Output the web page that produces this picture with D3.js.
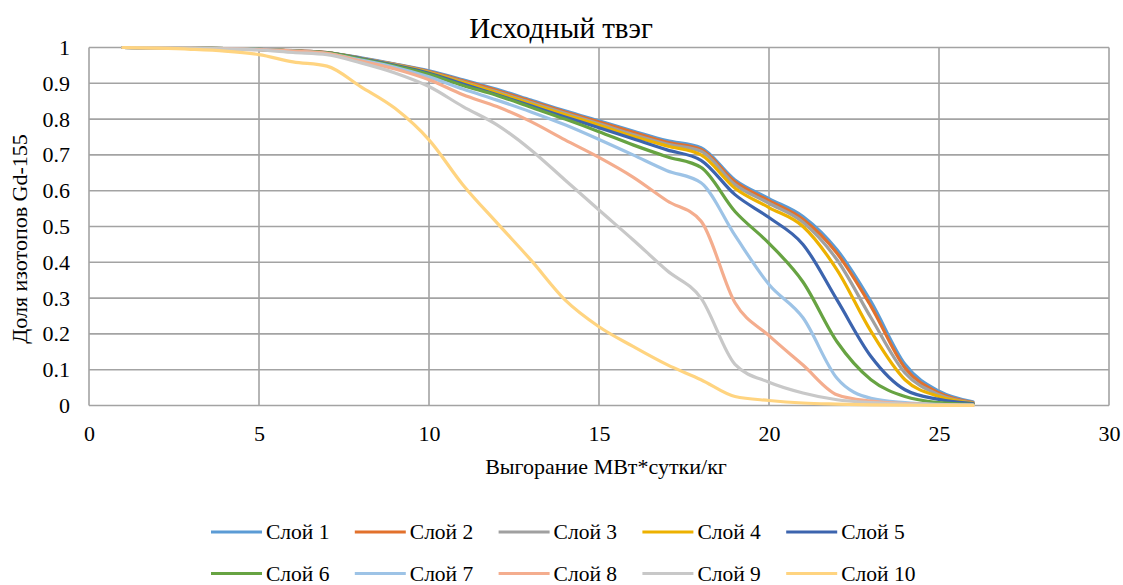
<!DOCTYPE html>
<html><head><meta charset="utf-8">
<script src="https://cdn.jsdelivr.net/npm/d3@7"></script>
<style>body{margin:0;background:#fff}svg{display:block}</style>
</head><body>
<svg id="c" width="1123" height="585"></svg>
<script>
const burnup = [1,2,3,4,5,6,7,8,9,10,11,12,13,14,15,16,17,18,19,20,21,22,23,24,25,26];
const seriesNames = ["Слой 1","Слой 2","Слой 3","Слой 4","Слой 5","Слой 6","Слой 7","Слой 8","Слой 9","Слой 10"];
const colors = ["#5B9BD5","#E2712C","#A0A0A0","#EDB100","#3C64AE","#67A342","#9DC3E6","#F4AD8E","#C8C8C8","#FFD480"];
const layer1 = [1,0.999,0.998,0.997,0.995,0.991,0.986,0.971,0.954,0.935,0.910,0.883,0.853,0.823,0.795,0.767,0.740,0.720,0.630,0.578,0.528,0.435,0.290,0.115,0.040,0.010];
const layer2 = [1,0.999,0.998,0.997,0.995,0.991,0.986,0.970,0.953,0.933,0.907,0.880,0.850,0.820,0.792,0.763,0.735,0.715,0.625,0.572,0.520,0.425,0.277,0.105,0.035,0.008];
const layer3 = [1,0.999,0.998,0.997,0.995,0.990,0.985,0.970,0.952,0.931,0.904,0.876,0.846,0.816,0.787,0.757,0.730,0.710,0.617,0.565,0.512,0.407,0.245,0.091,0.030,0.007];
const layer4 = [1,0.999,0.998,0.997,0.995,0.990,0.985,0.969,0.951,0.930,0.902,0.873,0.842,0.812,0.783,0.752,0.725,0.700,0.607,0.553,0.500,0.379,0.207,0.072,0.025,0.006];
const layer5 = [1,0.999,0.998,0.997,0.995,0.990,0.985,0.969,0.950,0.928,0.898,0.868,0.837,0.806,0.776,0.745,0.714,0.685,0.589,0.525,0.450,0.295,0.137,0.044,0.017,0.005];
const layer6 = [1,0.999,0.998,0.997,0.995,0.990,0.985,0.968,0.948,0.925,0.894,0.866,0.833,0.800,0.765,0.728,0.695,0.665,0.542,0.453,0.345,0.178,0.072,0.025,0.008,0.003];
const layer7 = [1,0.999,0.998,0.997,0.995,0.990,0.983,0.965,0.945,0.918,0.884,0.853,0.820,0.784,0.743,0.700,0.656,0.622,0.475,0.338,0.245,0.076,0.020,0.008,0.003,0.001];
const layer8 = [1,0.999,0.998,0.997,0.994,0.990,0.984,0.962,0.940,0.910,0.868,0.835,0.793,0.742,0.693,0.638,0.572,0.515,0.287,0.195,0.113,0.030,0.012,0.005,0.002,0.001];
const layer9 = [1,0.999,0.998,0.996,0.993,0.986,0.980,0.957,0.929,0.891,0.835,0.784,0.714,0.630,0.546,0.463,0.377,0.300,0.115,0.065,0.035,0.016,0.008,0.004,0.002,0.001];
const layer10 = [1,0.998,0.995,0.990,0.980,0.960,0.948,0.890,0.830,0.742,0.616,0.510,0.406,0.295,0.220,0.165,0.114,0.072,0.025,0.014,0.007,0.004,0.002,0.001,0.0005,0];
const layers = [layer1,layer2,layer3,layer4,layer5,layer6,layer7,layer8,layer9,layer10];
const xTicks = [0,5,10,15,20,25,30];
const yTicks = [0,0.1,0.2,0.3,0.4,0.5,0.6,0.7,0.8,0.9,1];
const titleText = "Исходный твэг";
const xTitle = "Выгорание МВт*сутки/кг";
const yTitle = "Доля изотопов Gd-155";

const FONT = "Liberation Serif, Times New Roman, serif";
const svg = d3.select("#c").attr("font-family",FONT);
const L=89, R=1109, T=47.5, B=405.5;
const x = d3.scaleLinear().domain([0,30]).range([L,R]);
const y = d3.scaleLinear().domain([0,1]).range([B,T]);
const grid = "#A3A3A3";

svg.append("g").selectAll("line").data(yTicks).join("line")
  .attr("x1",L).attr("x2",R).attr("y1",d=>y(d)).attr("y2",d=>y(d))
  .attr("stroke",grid).attr("stroke-width",1.6);
svg.append("g").selectAll("line").data(xTicks).join("line")
  .attr("y1",T).attr("y2",B).attr("x1",d=>x(d)).attr("x2",d=>x(d))
  .attr("stroke",grid).attr("stroke-width",1.6);

const xAxis = svg.append("g").attr("transform",`translate(0,${B})`)
  .call(d3.axisBottom(x).tickValues(xTicks).tickSize(0).tickPadding(20).tickFormat(d3.format("d")));
const yAxis = svg.append("g").attr("transform",`translate(${L},0)`)
  .call(d3.axisLeft(y).tickValues(yTicks).tickSize(0).tickPadding(19).tickFormat(d=>d===0?"0":d===1?"1":d3.format(".1f")(d)));
[xAxis,yAxis].forEach(a=>{a.attr("font-family",FONT).attr("font-size",22);a.select(".domain").remove();a.selectAll("text").attr("fill","#000");});

const line = d3.line().x((d,i)=>x(burnup[i])).y(d=>y(d)).curve(d3.curveMonotoneX);
svg.append("g").selectAll("path").data(layers).join("path")
  .attr("d",line).attr("fill","none").attr("stroke",(d,i)=>colors[i])
  .attr("stroke-width",3.2).attr("stroke-linejoin","round").attr("stroke-linecap","round");

svg.append("text").attr("x",561).attr("y",38).attr("text-anchor","middle").attr("font-size",29).text(titleText);
svg.append("text").attr("x",606).attr("y",474).attr("text-anchor","middle").attr("font-size",22).text(xTitle);
svg.append("text").attr("transform","translate(27,239) rotate(-90)").attr("text-anchor","middle").attr("font-size",22).text(yTitle);

const lg = svg.append("g");
seriesNames.forEach((n,i)=>{
  const col=i%5, row=Math.floor(i/5);
  const lx = 211 + col*143.8, ly = 532 + row*41.5;
  lg.append("line").attr("x1",lx).attr("x2",lx+51).attr("y1",ly).attr("y2",ly).attr("stroke",colors[i]).attr("stroke-width",3.2);
  lg.append("text").attr("x",lx+55).attr("y",ly+7).attr("font-size",21.5).text(n);
});
</script>
</body></html>
